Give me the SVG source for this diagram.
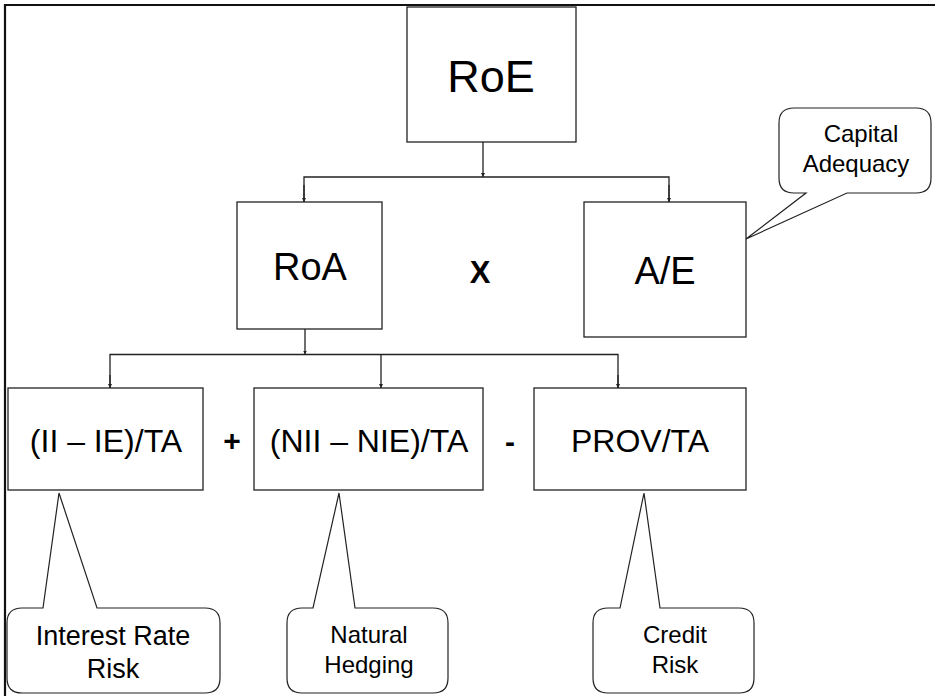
<svg xmlns="http://www.w3.org/2000/svg" width="935" height="696" viewBox="0 0 935 696">
<defs>
<style>
.box{fill:#fff;stroke:#222;stroke-width:1.3}
.call{fill:#fff;stroke:#222;stroke-width:1.2}
.con{fill:none;stroke:#222;stroke-width:1.3}
text{font-family:"Liberation Sans",Arial,sans-serif;fill:#000;text-anchor:middle}
.t3{font-size:32px}
.t2{font-size:38px}
.ct{font-size:24px}
.op{font-weight:bold}
</style>
<marker id="ah" viewBox="0 0 6 6" refX="6" refY="3" markerWidth="4" markerHeight="4" orient="auto" markerUnits="userSpaceOnUse">
<path d="M0 0 L6 3 L0 6 Z" fill="#222"/>
</marker>
</defs>
<rect width="935" height="696" fill="#fff"/>
<path d="M5 696 V5 H935" fill="none" stroke="#111" stroke-width="2.2"/>

<g id="connectors">
<path class="con" d="M483 142 V177" marker-end="url(#ah)"/>
<path class="con" d="M304 202 V177 H669 V202" />
<path class="con" d="M304 185 V202" marker-end="url(#ah)"/>
<path class="con" d="M669 185 V202" marker-end="url(#ah)"/>
<path class="con" d="M305 329 V354.5" marker-end="url(#ah)"/>
<path class="con" d="M110 388 V354.5 H618 V388"/>
<path class="con" d="M110 375 V388" marker-end="url(#ah)"/>
<path class="con" d="M381 354.5 V388" marker-end="url(#ah)"/>
<path class="con" d="M618 375 V388" marker-end="url(#ah)"/>
</g>

<g id="roe">
<rect class="box" x="407" y="7" width="169" height="135"/>
<text x="491" y="92" font-size="45">RoE</text>
</g>
<g id="roa">
<rect class="box" x="237" y="202" width="145" height="127"/>
<text class="t2" x="310" y="280">RoA</text>
</g>
<g id="times">
<text class="op" x="480" y="283" font-size="31">X</text>
</g>
<g id="ae">
<rect class="box" x="584" y="202" width="162" height="135"/>
<text class="t2" x="665" y="284">A/E</text>
</g>
<g id="capital-adequacy">
<path class="call" d="M794 108 L916 108 Q931 108 931 123 L931 178 Q931 193 916 193 L847 193 L746 239 L806 193 L794 193 Q779 193 779 178 L779 123 Q779 108 794 108 Z"/>
<text class="ct" x="861" y="142">Capital</text>
<text class="ct" x="856" y="172">Adequacy</text>
</g>

<g id="ii-ie">
<rect class="box" x="8" y="388" width="195" height="102"/>
<text class="t3" x="106" y="452">(II – IE)/TA</text>
</g>
<g id="plus">
<text class="op" x="232" y="451" font-size="30">+</text>
</g>
<g id="nii-nie">
<rect class="box" x="254" y="388" width="229" height="102"/>
<text class="t3" x="369" y="452">(NII – NIE)/TA</text>
</g>
<g id="minus">
<text class="op" x="510" y="452" font-size="30">-</text>
</g>
<g id="prov">
<rect class="box" x="534" y="388" width="212" height="102"/>
<text class="t3" x="640" y="452">PROV/TA</text>
</g>

<g id="interest-rate-risk">
<path class="call" d="M22 608 L43 608 L59 493 L97 608 L205 608 Q220 608 220 623 L220 678 Q220 693 205 693 L22 693 Q7 693 7 678 L7 623 Q7 608 22 608 Z"/>
<text x="113" y="645" font-size="27">Interest Rate</text>
<text x="113" y="678" font-size="27">Risk</text>
</g>
<g id="natural-hedging">
<path class="call" d="M302 608 L313 608 L339 493 L355 608 L433 608 Q448 608 448 623 L448 678 Q448 693 433 693 L302 693 Q287 693 287 678 L287 623 Q287 608 302 608 Z"/>
<text class="ct" x="369" y="643">Natural</text>
<text class="ct" x="369" y="673">Hedging</text>
</g>
<g id="credit-risk">
<path class="call" d="M608 608 L620 608 L644 493 L660 608 L739 608 Q754 608 754 623 L754 678 Q754 693 739 693 L608 693 Q593 693 593 678 L593 623 Q593 608 608 608 Z"/>
<text class="ct" x="675" y="643">Credit</text>
<text class="ct" x="675" y="673">Risk</text>
</g>
</svg>
